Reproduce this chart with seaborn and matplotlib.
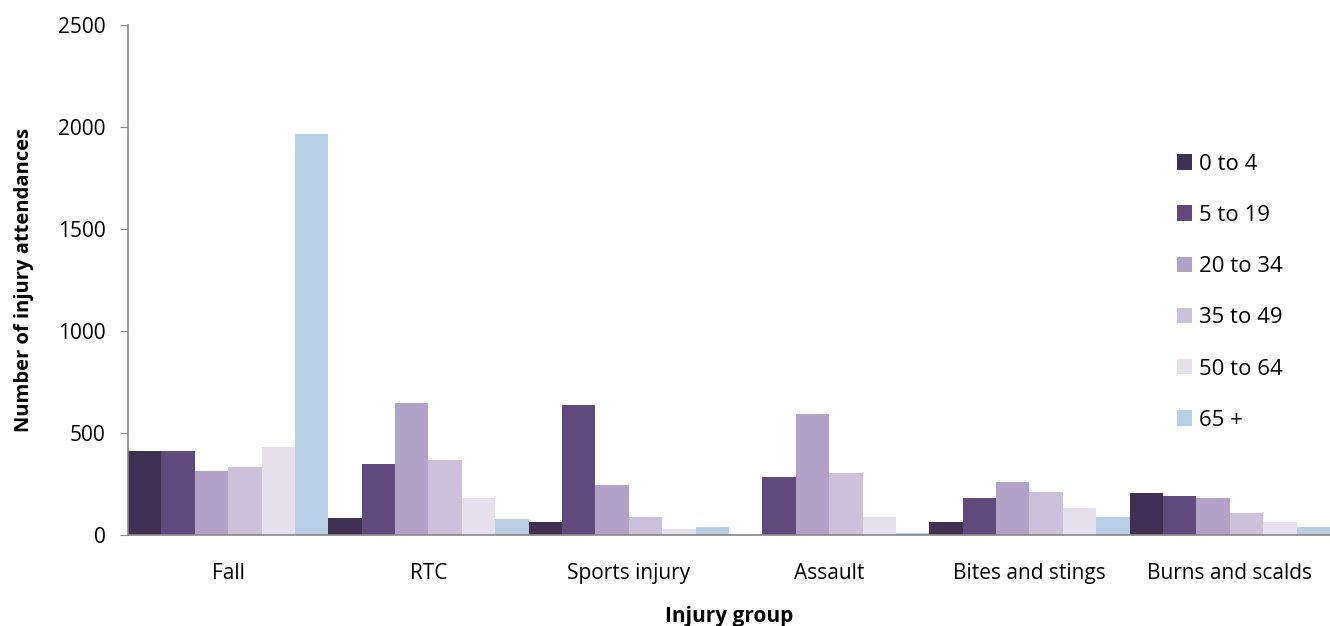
import numpy as np
import pandas as pd
import matplotlib

matplotlib.use('Agg')
import matplotlib.pyplot as plt
import seaborn as sns

groups = ["Fall", "RTC", "Sports injury", "Assault", "Bites and stings", "Burns and scalds"]
ages = ["0 to 4", "5 to 19", "20 to 34", "35 to 49", "50 to 64", "65 +"]

age_0_4 = [410, 81, 65, 0, 65, 207]
age_5_19 = [413, 349, 639, 286, 179, 189]
age_20_34 = [316, 645, 246, 591, 258, 179]
age_35_49 = [333, 369, 86, 305, 213, 110]
age_50_64 = [429, 179, 30, 86, 132, 66]
age_65_plus = [1965, 76, 37, 12, 89, 37]

colors = ["#403152", "#604a7b", "#b3a2c7", "#ccc1da", "#e6e0ec", "#b9cde5"]

series = [age_0_4, age_5_19, age_20_34, age_35_49, age_50_64, age_65_plus]
rows = []
for age, vals in zip(ages, series):
    for g, v in zip(groups, vals):
        rows.append({"group": g, "age": age, "value": v})
df = pd.DataFrame(rows)

sns.set_style("white")
plt.rcParams['font.family'] = ['Open Sans', 'DejaVu Sans']
plt.rcParams['text.color'] = 'black'
plt.rcParams['axes.labelcolor'] = 'black'
plt.rcParams['xtick.color'] = 'black'
plt.rcParams['ytick.color'] = 'black'

fig = plt.figure(figsize=(13.3, 6.26), dpi=100)
ax = fig.add_axes([0.0962, 0.1454, 0.9038, 0.8146])

sns.barplot(data=df, x="group", y="value", hue="age", order=groups, hue_order=ages,
            palette=colors, width=1.0, gap=0, linewidth=0, saturation=1, ax=ax)

ax.set_xlim(-0.5, 5.5)
ax.set_ylim(0, 2500)
ax.set_yticks(np.arange(0, 2501, 500))
ax.tick_params(axis='y', labelsize=15, length=6, color='#888888', direction='out', left=True, pad=10)
ax.tick_params(axis='x', labelsize=15, length=0, pad=20)
for s in ['top', 'right']:
    ax.spines[s].set_visible(False)
for s in ['left', 'bottom']:
    ax.spines[s].set_color('#888888')
    ax.spines[s].set_linewidth(1.2)

ax.set_xlabel("Injury group", fontsize=15, fontweight='bold', labelpad=16)
ax.set_ylabel("Number of injury attendances", fontsize=14.5, fontweight='bold', labelpad=17)

leg = ax.legend(loc='upper right', bbox_to_anchor=(0.977, 0.787), frameon=False, fontsize=16,
                handlelength=0.68, handleheight=0.68, handletextpad=0.3, labelspacing=1.36)

fig.savefig("out.png", dpi=100)
